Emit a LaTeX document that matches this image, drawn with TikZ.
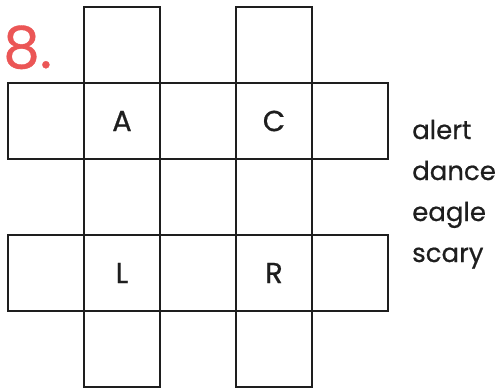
\documentclass[tikz,border=0pt]{standalone}
\usepackage{fontspec}
\setmainfont{Poppins}[FakeBold=0.6]
\definecolor{numred}{HTML}{EB5656}
\definecolor{ink}{HTML}{1E1E1E}
\begin{document}
\begin{tikzpicture}[x=1pt,y=-1pt,
  cell/.style={draw=ink,line width=2.3pt,minimum size=76pt,inner sep=0pt,
    font=\fontsize{29}{30}\selectfont,text=ink},
  word/.style={anchor=base west,inner sep=0pt,font=\fontsize{26}{27}\selectfont,text=ink}]
\useasboundingbox (0,0) rectangle (500,388);
% helper: centre of cell (c,r) = (46+76c, 45+76r)
\foreach \c/\r/\n in {1/0/a0,3/0/b0,
  0/1/r10,2/1/r12,4/1/r14,
  1/2/a2,3/2/b2,
  0/3/r30,2/3/r32,4/3/r34,
  1/4/a4,3/4/b4}{
  \node[cell] (\n) at ({46+76*\c},{45+76*\r}) {};
}
\node[cell] (A) at (122,121) {A};
\node[cell] (C) at (274,121) {C};
\node[cell] (L) at (122,273) {L};
\node[cell] (R) at (274,273) {R};
\node[anchor=base west,inner sep=0pt,text=numred,font=\fontsize{58}{60}\selectfont] (num) at (3,68) {8.};
\node[word] (w1) at (412,139) {alert};
\node[word] (w2) at (412,180) {dance};
\node[word] (w3) at (412,221) {eagle};
\node[word] (w4) at (412,262) {scary};
\end{tikzpicture}
\end{document}
